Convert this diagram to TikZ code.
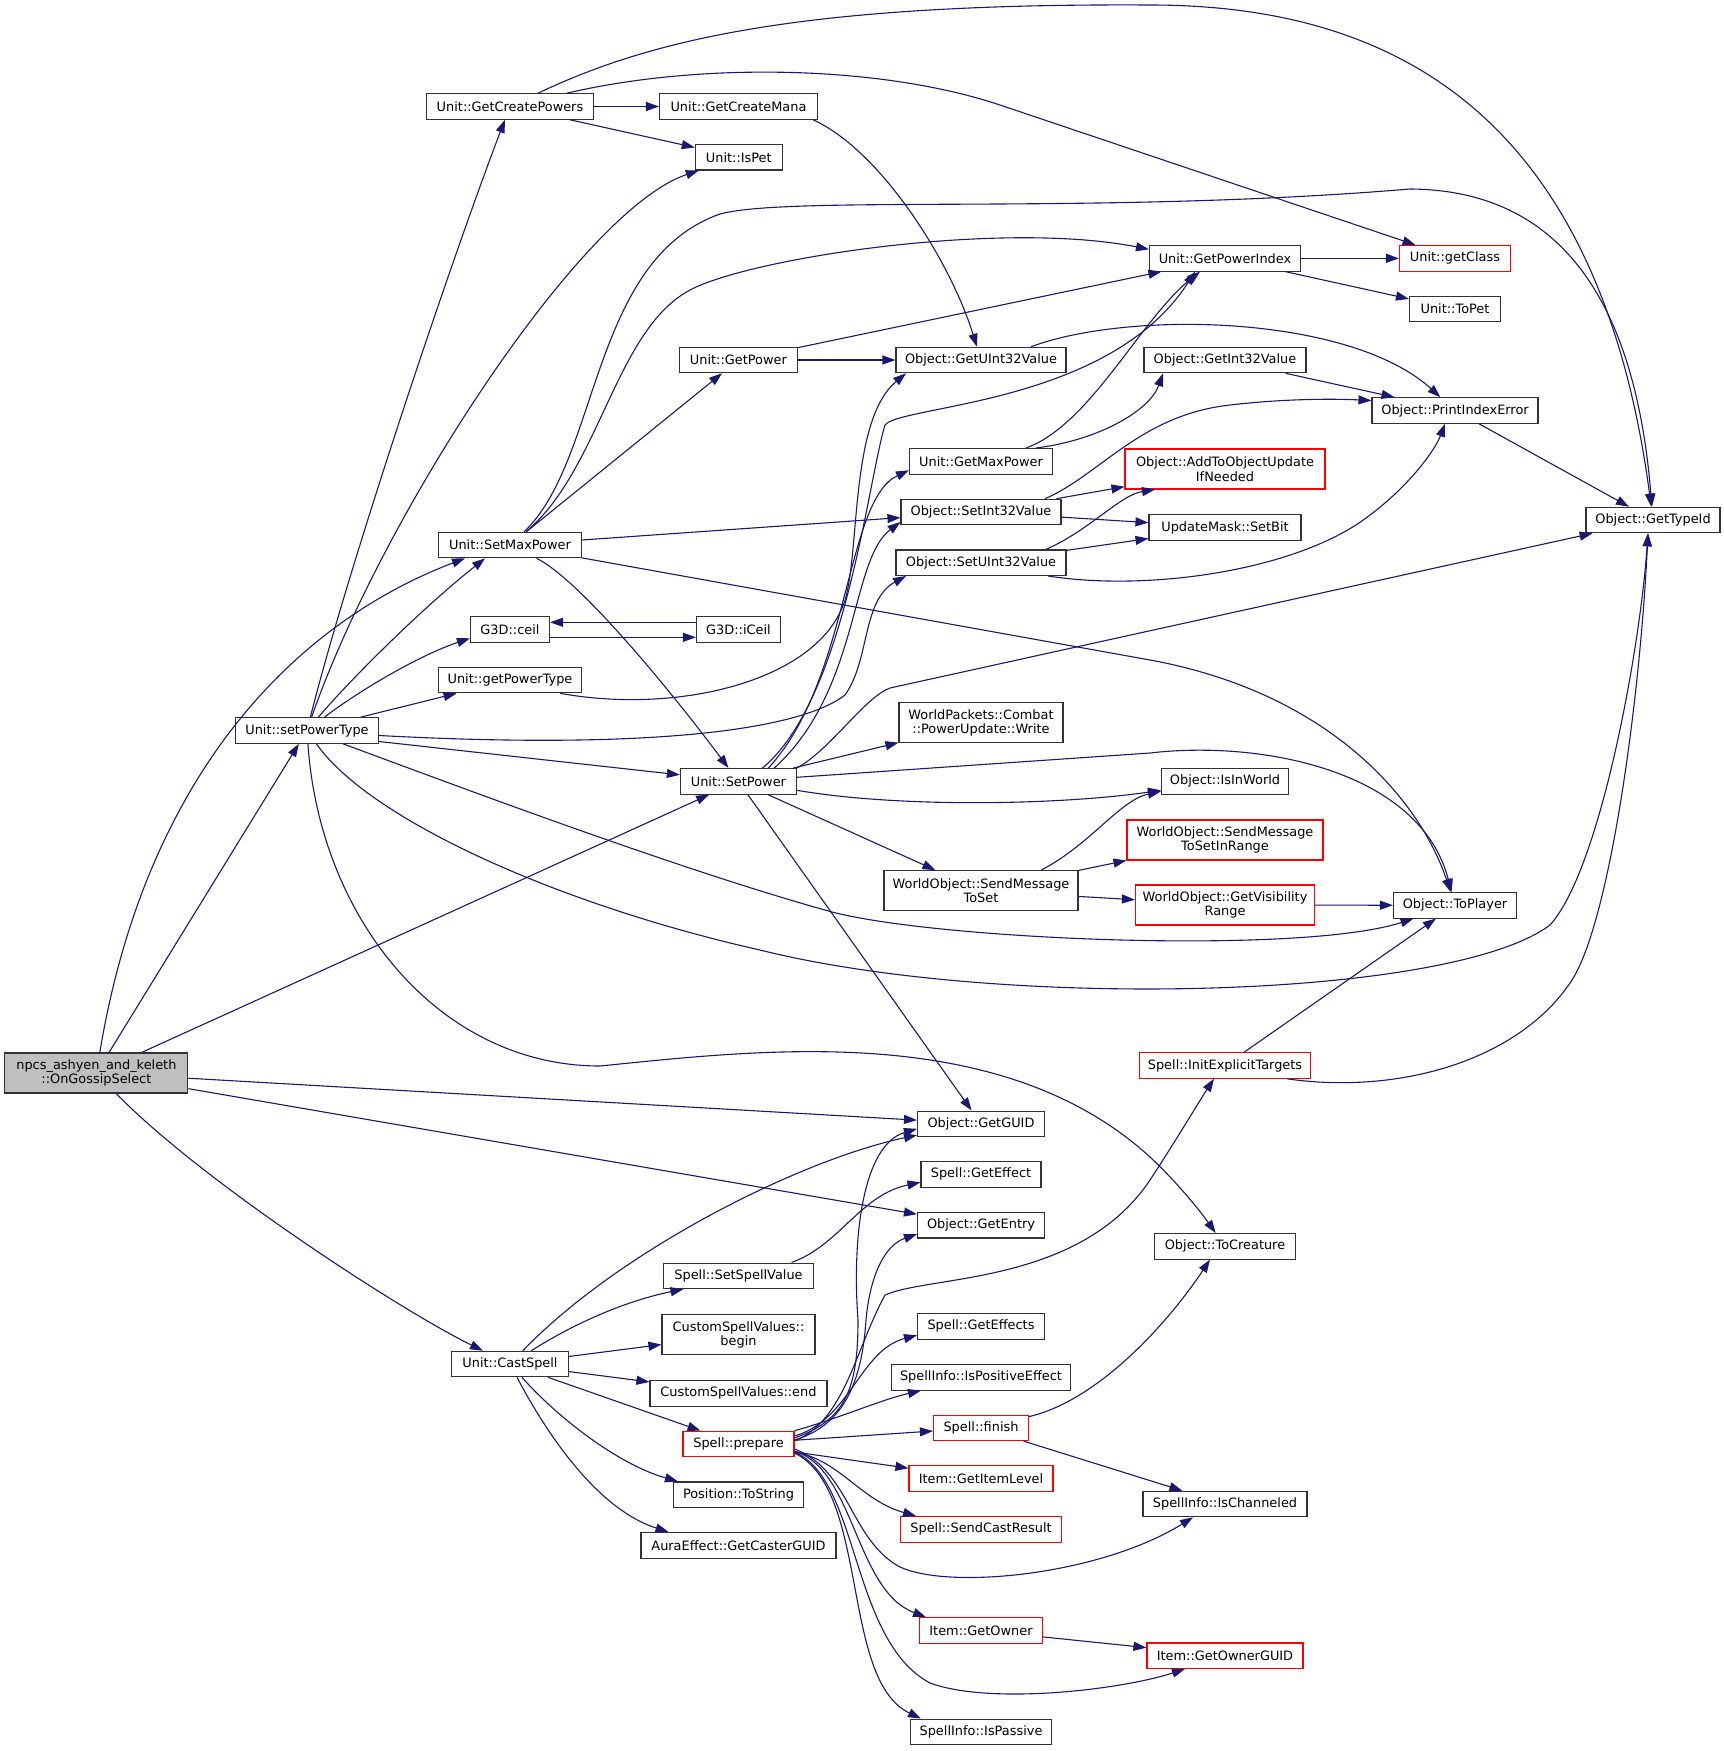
\documentclass[tikz,border=0pt]{standalone}
\usepackage{fontspec}
\setmainfont{DejaVu Sans}
\usetikzlibrary{arrows.meta}
\definecolor{callblue}{HTML}{191970}
\definecolor{rootgray}{HTML}{BFBFBF}

\begin{document}
\begin{tikzpicture}[x=1pt,y=-1pt,
	fn/.style={draw=black!80, line width=1.1pt, fill=white, inner sep=0pt, minimum height=25.5pt, align=center, font=\fontsize{12.9}{14.5}\selectfont},
	fnred/.style={fn, draw=red},
	tall/.style={minimum height=40pt},
	root/.style={fn, tall, fill=rootgray},
	calls/.style={draw=callblue, line width=1.1pt, -{Triangle[length=13pt,width=9pt]}}]
\path[use as bounding box, fill=white] (0,0) rectangle (1724,1751);

\node[root, minimum width=183pt] (npcs) at (96.4,1073) {npcs\_ashyen\_and\_keleth\\::OnGossipSelect};
\node[fn, minimum width=143pt] (spt) at (307,730.5) {Unit::setPowerType};

\node[fn, minimum width=167pt] (gcp) at (510,106.5) {Unit::GetCreatePowers};
\node[fn, minimum width=143pt] (smp) at (510,545) {Unit::SetMaxPower};
\node[fn, minimum width=79pt] (ceil) at (510,629.3) {G3D::ceil};
\node[fn, minimum width=143pt] (gpt) at (510,680) {Unit::getPowerType};
\node[fn, minimum width=117pt] (cast) at (510,1364) {Unit::CastSpell};

\node[fn, minimum width=158pt] (gcm) at (738.5,106.5) {Unit::GetCreateMana};
\node[fn, minimum width=87pt] (ispet) at (738.8,157.2) {Unit::IsPet};
\node[fn, minimum width=118pt] (gpow) at (738.4,360) {Unit::GetPower};
\node[fn, minimum width=84pt] (iceil) at (738.5,629.3) {G3D::iCeil};
\node[fn, minimum width=116pt] (spow) at (738.4,781.3) {Unit::SetPower};
\node[fn, minimum width=150pt] (ssv) at (738.5,1275.8) {Spell::SetSpellValue};
\node[fn, tall, minimum width=153pt] (csvb) at (738.5,1334.7) {CustomSpellValues::\\begin};
\node[fn, minimum width=177pt] (csve) at (738.5,1393.3) {CustomSpellValues::end};
\node[fnred, minimum width=111pt] (prep) at (738.5,1444) {Spell::prepare};
\node[fn, minimum width=130pt] (pts) at (738.5,1494.7) {Position::ToString};
\node[fn, minimum width=195pt] (aura) at (738.5,1545.3) {AuraEffect::GetCasterGUID};

\node[fn, minimum width=170pt] (gu32) at (981,360) {Object::GetUInt32Value};
\node[fn, minimum width=143pt] (gmp) at (981,461.3) {Unit::GetMaxPower};
\node[fn, minimum width=160pt] (si32) at (981,512) {Object::SetInt32Value};
\node[fn, minimum width=170pt] (su32) at (981,562.7) {Object::SetUInt32Value};
\node[fn, tall, minimum width=164pt] (wpw) at (981,722.7) {WorldPackets::Combat\\::PowerUpdate::Write};
\node[fn, tall, minimum width=194pt] (smts) at (981,890.7) {WorldObject::SendMessage\\ToSet};
\node[fn, minimum width=127pt] (guid) at (981,1123.8) {Object::GetGUID};
\node[fn, minimum width=120pt] (geff) at (981,1174.3) {Spell::GetEffect};
\node[fn, minimum width=127pt] (gent) at (981,1225.2) {Object::GetEntry};
\node[fn, minimum width=127pt] (geffs) at (981,1326.3) {Spell::GetEffects};
\node[fn, minimum width=179pt] (ispe) at (981,1377.3) {SpellInfo::IsPositiveEffect};
\node[fnred, minimum width=95pt] (fin) at (981,1427.8) {Spell::finish};
\node[fnred, minimum width=144pt] (gil) at (981,1478.5) {Item::GetItemLevel};
\node[fnred, minimum width=161pt] (scr) at (981,1529.3) {Spell::SendCastResult};
\node[fnred, minimum width=123pt] (gown) at (981,1630.5) {Item::GetOwner};
\node[fn, minimum width=141pt] (ispa) at (981,1731.8) {SpellInfo::IsPassive};

\node[fn, minimum width=151pt] (gpi) at (1225,258.3) {Unit::GetPowerIndex};
\node[fn, minimum width=162pt] (gi32) at (1225,360) {Object::GetInt32Value};
\node[fnred, tall, minimum width=200pt] (aou) at (1225,469) {Object::AddToObjectUpdate\\IfNeeded};
\node[fn, minimum width=152pt] (sbit) at (1225,527.5) {UpdateMask::SetBit};
\node[fn, minimum width=127pt] (inw) at (1225,781.3) {Object::IsInWorld};
\node[fnred, tall, minimum width=196pt] (smtsr) at (1225,840) {WorldObject::SendMessage\\ToSetInRange};
\node[fnred, tall, minimum width=179pt] (gvr) at (1225,905) {WorldObject::GetVisibility\\Range};
\node[fnred, minimum width=171pt] (iet) at (1225,1065.5) {Spell::InitExplicitTargets};
\node[fn, minimum width=141pt] (tocr) at (1225,1246.3) {Object::ToCreature};
\node[fn, minimum width=164pt] (isch) at (1225,1504) {SpellInfo::IsChanneled};
\node[fnred, minimum width=156pt] (gog) at (1225,1655.7) {Item::GetOwnerGUID};

\node[fnred, minimum width=111pt] (gcl) at (1455,258.3) {Unit::getClass};
\node[fn, minimum width=91pt] (topet) at (1455,309) {Unit::ToPet};
\node[fn, minimum width=166pt] (pie) at (1455,410.5) {Object::PrintIndexError};
\node[fn, minimum width=123pt] (topl) at (1455,905.3) {Object::ToPlayer};

\node[fn, minimum width=134pt] (gtid) at (1653,520) {Object::GetTypeId};

\draw[calls] (npcs) .. controls (145,780) and (290,625) .. ([xshift=-45pt]smp.south);
\draw[calls] (npcs) -- (spt);
\draw[calls] (npcs) -- (spow);
\draw[calls] (npcs) -- (guid);
\draw[calls] (npcs) -- (gent);
\draw[calls] (npcs) .. controls (200,1180) and (400,1310) .. (cast);

\draw[calls] (spt) .. controls (350,560) and (455,250) .. (gcp);
\draw[calls] (spt) .. controls (380,520) and (580,210) .. (ispet);
\draw[calls] (spt) .. controls (350,680) and (420,610) .. ([xshift=-25pt]smp.south);
\draw[calls] (spt) .. controls (360,690) and (420,655) .. ([yshift=-9pt]ceil.west);
\draw[calls] (spt) -- (gpt);
\draw[calls] ([yshift=-11pt]spt.east) -- (spow);
\draw[calls] ([yshift=-5pt]spt.east) .. controls (650,750) and (800,730) .. (845,695) .. controls (870,660) and (862,600) .. ([xshift=-75pt]su32.south);
\draw[calls] (spt) .. controls (460,787) and (680,870) .. (832,912) .. controls (940,940) and (1300,955) .. (topl);
\draw[calls] (spt) .. controls (370,820) and (560,905) .. (760,950) .. controls (1000,1010) and (1450,1000) .. (1550,925) .. controls (1600,870) and (1640,650) .. ([xshift=-5pt]gtid.south);
\draw[calls] (spt) .. controls (320,920) and (440,1066) .. (600,1066) .. controls (760,1050) and (1000,1020) .. (1150,1157) .. controls (1180,1185) and (1203,1215) .. (tocr);

\draw[calls] (smp) .. controls (600,460) and (590,260) .. (720,214) .. controls (790,195) and (1100,215) .. (1410,189) .. controls (1560,190) and (1635,300) .. (gtid);
\draw[calls] (smp) .. controls (600,470) and (615,330) .. (690,290) .. controls (750,258) and (1000,220) .. ([yshift=9pt]gpi.west);
\draw[calls] (smp) -- (gpow);
\draw[calls] (smp) -- (si32);
\draw[calls] (smp) -- (1150,660) .. controls (1330,693) and (1420,800) .. (topl);
\draw[calls] (smp) .. controls (580,580) and (670,690) .. (spow);

\draw[calls] (gcp) -- (gcm);
\draw[calls] (gcp) -- (ispet);
\draw[calls] (gcp) .. controls (650,40) and (800,3) .. (1150,5) .. controls (1400,5) and (1600,120) .. (gtid);
\draw[calls] (gcp) .. controls (700,62) and (880,65) .. (1000,105) -- (gcl);
\draw[calls] ([xshift=-5pt]gcm.south east) .. controls (880,150) and (950,260) .. (gu32);

\draw[calls] (gpow) -- (gu32);
\draw[calls] (gpow) -- (gpi);
\draw[calls] (gpi) -- (gcl);
\draw[calls] (gpi) -- (topet);
\draw[calls] ([xshift=50pt]gu32.north) .. controls (1130,310) and (1350,315) .. (pie);
\draw[calls] (gi32) -- (pie);
\draw[calls] ([xshift=55pt]gmp.north) .. controls (1100,440) and (1150,410) .. ([xshift=-62pt]gi32.south);
\draw[calls] ([xshift=45pt]gmp.north) .. controls (1090,425) and (1140,320) .. ([xshift=-25pt]gpi.south);

\draw[calls] ([xshift=24pt]spow.north) .. controls (845,700) and (868,480) .. (885,425) .. controls (900,405) and (1110,405) .. ([xshift=-30pt]gpi.south);
\draw[calls] ([xshift=30pt]spow.north) .. controls (850,680) and (845,500) .. ([yshift=-9pt]gmp.west);
\draw[calls] ([xshift=36pt]spow.north) .. controls (860,690) and (850,560) .. ([yshift=-10pt]si32.west);
\draw[calls] (spow.north east) .. controls (830,750) and (865,697) .. (890,688) -- (gtid);
\draw[calls] (spow) -- (wpw);
\draw[calls] (spow) -- (1150,753) .. controls (1260,740) and (1420,770) .. (topl);
\draw[calls] ([yshift=-9pt]spow.east) .. controls (900,808) and (1060,805) .. ([yshift=-9pt]inw.west);
\draw[calls] (spow) -- (smts);
\draw[calls] (spow) -- (guid);
\draw[calls] ([xshift=50pt]gpt.south) .. controls (680,715) and (820,680) .. (845,600) .. controls (860,550) and (850,420) .. ([xshift=-75pt]gu32.south);

\draw[calls] (cast) .. controls (620,1250) and (800,1160) .. ([yshift=2pt]guid.south west);
\draw[calls] (cast) .. controls (580,1320) and (630,1300) .. ([xshift=-55pt]ssv.south);
\draw[calls] (cast) -- (csvb);
\draw[calls] (cast) -- (csve);
\draw[calls] (cast) -- (prep);
\draw[calls] (cast) .. controls (560,1420) and (620,1465) .. ([xshift=5pt]pts.north west);
\draw[calls] (cast) .. controls (550,1440) and (600,1510) .. ([xshift=-70pt]aura.north);
\draw[calls] ([xshift=53pt]ssv.north) .. controls (840,1245) and (860,1195) .. ([yshift=-8pt]geff.west);

\draw[calls] ([yshift=6pt]prep.east) .. controls (845,1420) and (858,1390) .. (858,1320) .. controls (852,1240) and (862,1145) .. ([yshift=-5pt]guid.west);
\draw[calls] ([yshift=4pt]prep.east) .. controls (845,1425) and (862,1380) .. (866,1320) .. controls (870,1275) and (885,1245) .. ([yshift=-9pt]gent.west);
\draw[calls] ([yshift=3pt]prep.east) .. controls (845,1420) and (855,1350) .. (885,1295) .. controls (930,1275) and (1080,1285) .. (1150,1180) .. controls (1175,1142) and (1200,1100) .. ([xshift=-11pt]iet.south);
\draw[calls] ([yshift=8pt]prep.east) .. controls (850,1420) and (860,1350) .. ([yshift=-9pt]geffs.west);
\draw[calls] (prep.north east) .. controls (840,1418) and (880,1400) .. ([xshift=-60pt]ispe.south);
\draw[calls] (prep) -- (fin);
\draw[calls] (prep) -- (gil);
\draw[calls] ([yshift=-8pt]prep.east) .. controls (840,1460) and (860,1500) .. ([xshift=-65pt]scr.north);
\draw[calls] ([yshift=-5pt]prep.east) .. controls (850,1470) and (850,1540) .. (900,1567) .. controls (950,1590) and (1100,1575) .. ([xshift=-32pt]isch.south);
\draw[calls] ([yshift=-7pt]prep.east) .. controls (855,1470) and (855,1590) .. ([xshift=-55pt]gown.north);
\draw[calls] ([yshift=-8pt]prep.east) .. controls (860,1480) and (850,1640) .. (930,1683) .. controls (990,1705) and (1120,1690) .. ([xshift=-40pt]gog.south);
\draw[calls] ([yshift=-9pt]prep.east) .. controls (870,1490) and (840,1680) .. ([xshift=-60pt]ispa.north);

\draw[calls] (fin) .. controls (1100,1400) and (1170,1320) .. ([xshift=-15pt]tocr.south);
\draw[calls] (fin) -- (isch);
\draw[calls] (gown) -- (gog);
\draw[calls] (iet) -- (topl);
\draw[calls] ([xshift=62pt]iet.south) .. controls (1400,1095) and (1520,1060) .. (1572,980) .. controls (1610,920) and (1640,700) .. ([xshift=-5pt]gtid.south);

\draw[calls] ([xshift=60pt]smts.north) .. controls (1090,845) and (1120,800) .. ([yshift=-10pt]inw.west);
\draw[calls] (smts) -- (smtsr);
\draw[calls] (smts) -- (gvr);
\draw[calls] (gvr) -- (topl);

\draw[calls] ([xshift=64pt]si32.north) .. controls (1100,475) and (1140,415) .. (1230,405) .. controls (1290,398) and (1340,399) .. ([yshift=10pt]pie.west);
\draw[calls] (si32) -- (aou);
\draw[calls] (si32) -- (sbit);
\draw[calls] ([xshift=65pt]su32.north) .. controls (1090,530) and (1120,495) .. ([xshift=-70pt]aou.south);
\draw[calls] (su32) -- (sbit);
\draw[calls] ([xshift=67pt]su32.south) .. controls (1150,592) and (1300,570) .. (1370,515) .. controls (1410,485) and (1435,450) .. ([xshift=-10pt]pie.south);
\draw[calls] (pie) -- (gtid);
\draw[calls] ([yshift=-8pt]ceil.east) -- ([yshift=-8pt]iceil.west);
\draw[calls] ([yshift=7pt]iceil.west) -- ([yshift=7pt]ceil.east);
\end{tikzpicture}
\end{document}
